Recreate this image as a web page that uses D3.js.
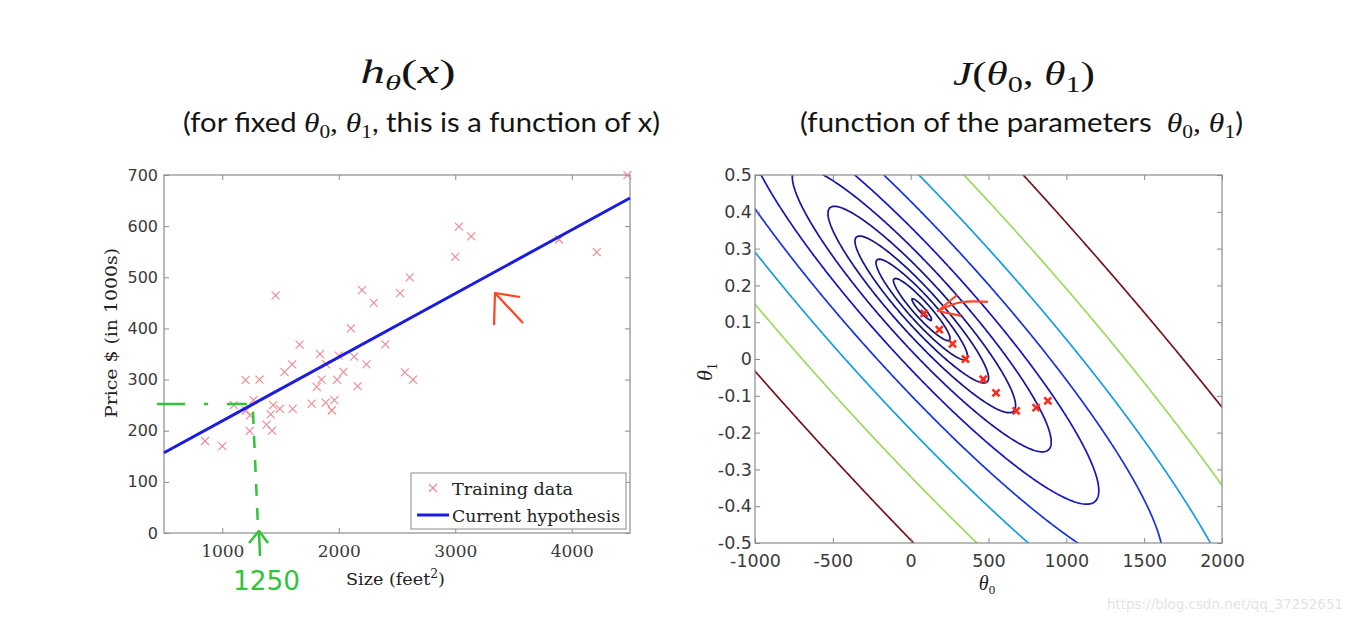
<!DOCTYPE html>
<html><head><meta charset="utf-8">
<script src="https://cdn.jsdelivr.net/npm/d3@7"></script>
<style>
body{margin:0;background:#fff;}
svg{display:block;}
text{white-space:pre;}
</style></head><body>
<svg id="chart" width="1357" height="633"></svg>
<script>
// ---------- data ----------
const sizes = [2104,1600,2400,1416,3000,1985,1534,1427,1380,1494,1940,2000,1890,4478,1268,2300,1320,1236,2609,3031,1767,1888,1604,1962,3890,1100,1458,2526,2200,2637,1839,1000,2040,3137,1811,1437,1239,2132,4215,2162,1664,2238,2567,1200,852,1852,1203];
const prices = [399.9,329.9,369,232,539.9,299.9,314.9,199.999,212,242.5,239.999,347,329.999,699.9,259.9,449.9,299.9,199.9,499.998,599,252.9,255,242.9,259.9,573.9,249.9,464.5,469,475,299.9,349.9,169.9,314.9,579.9,285.9,249.9,229.9,345,549,287,368.5,329.9,314,299,179.9,299.9,239.5];
const hypX = [500, 4500];
const hypY = [157, 655];
const xTicksL = [1000, 2000, 3000, 4000];
const yTicksL = [0, 100, 200, 300, 400, 500, 600, 700];
const xTicksR = [-1000, -500, 0, 500, 1000, 1500, 2000];
const yTicksR = [-0.5, -0.4, -0.3, -0.2, -0.1, 0, 0.1, 0.2, 0.3, 0.4, 0.5];
const contourLevels = [2336, 4281, 7848, 14384, 26367, 48329, 88587, 162378, 297635, 545559, 1000000];
const gdTheta0 = [881, 806, 678, 548, 466, 352, 269, 184, 87];
const gdTheta1 = [-0.114, -0.132, -0.141, -0.092, -0.055, 0.000, 0.041, 0.080, 0.124];
const legendLabels = ["Training data", "Current hypothesis"];

// ---------- setup ----------
const svg = d3.select("#chart");
const SERIF = "'Liberation Serif', 'DejaVu Serif', serif";
const DSERIF = "'DejaVu Serif', serif";
const SANS = "'DejaVu Sans', sans-serif";
const TSANS = "Lato, 'Open Sans', sans-serif";
const AXIS = "#8c8c8c";
const LABEL = "#3a3a3a";

function rich(parent, x, y, parts, anchor, len, fill) {
  const t = parent.append("text").attr("x", x).attr("y", y)
    .attr("text-anchor", anchor || "start").attr("fill", fill || "#141414");
  if (len) t.attr("textLength", len).attr("lengthAdjust", "spacingAndGlyphs");
  let cur = 0;
  parts.forEach(p => {
    const s = t.append("tspan").text(p.t).attr("font-family", p.ff).attr("font-size", p.fs);
    if (p.it) s.attr("font-style", "italic");
    const target = p.sub ? p.sub : (p.sup ? -p.sup : 0);
    if (target !== cur) { s.attr("dy", target - cur); cur = target; }
  });
  return t;
}

// ---------- titles ----------
rich(svg, 408, 83, [
  {t:"h", ff:SERIF, fs:33, it:true},
  {t:"θ", ff:SERIF, fs:22, it:true, sub:7},
  {t:"(", ff:SERIF, fs:33},
  {t:"x", ff:SERIF, fs:33, it:true},
  {t:")", ff:SERIF, fs:33}
], "middle", 95);

rich(svg, 1024, 85, [
  {t:"J", ff:SERIF, fs:33, it:true},
  {t:"(", ff:SERIF, fs:33},
  {t:"θ", ff:SERIF, fs:33, it:true},
  {t:"0", ff:SERIF, fs:23, sub:7},
  {t:", ", ff:SERIF, fs:33},
  {t:"θ", ff:SERIF, fs:33, it:true},
  {t:"1", ff:SERIF, fs:23, sub:7},
  {t:")", ff:SERIF, fs:33}
], "middle", 142);

rich(svg, 183, 132, [
  {t:"(for fixed ", ff:TSANS, fs:26},
  {t:"θ", ff:SERIF, fs:28, it:true},
  {t:"0", ff:SERIF, fs:19, sub:6},
  {t:", ", ff:SERIF, fs:28},
  {t:"θ", ff:SERIF, fs:28, it:true},
  {t:"1", ff:SERIF, fs:19, sub:6},
  {t:", this is a function of x)", ff:TSANS, fs:26}
], "start", 477);

rich(svg, 800, 132, [
  {t:"(function of the parameters  ", ff:TSANS, fs:26},
  {t:"θ", ff:SERIF, fs:28, it:true},
  {t:"0", ff:SERIF, fs:19, sub:6},
  {t:", ", ff:SERIF, fs:28},
  {t:"θ", ff:SERIF, fs:28, it:true},
  {t:"1", ff:SERIF, fs:19, sub:6},
  {t:")", ff:TSANS, fs:26}
], "start", 443);

// ---------- helpers for axes ----------
function styleAxis(g, family, size) {
  g.select(".domain").remove();
  g.selectAll(".tick line").attr("stroke", AXIS).attr("stroke-width", 1);
  g.selectAll(".tick text").attr("font-family", family).attr("font-size", size).attr("fill", LABEL);
}
const fmtR = d => (Math.abs(d) < 1e-9 ? "0" : (Number.isInteger(d) ? String(d) : d.toFixed(1)));

// ---------- left chart ----------
const xL = d3.scaleLinear().domain([500, 4500]).range([164, 630]);
const yL = d3.scaleLinear().domain([0, 700]).range([533, 175]);
const gL = svg.append("g");

gL.append("g").attr("transform", `translate(0,${yL(0)})`)
  .call(d3.axisBottom(xL).tickValues(xTicksL).tickSize(-5).tickSizeOuter(0).tickPadding(12).tickFormat(d3.format("d")))
  .call(g => styleAxis(g, DSERIF, 17));
gL.append("g").attr("transform", `translate(0,${yL(700)})`)
  .call(d3.axisTop(xL).tickValues(xTicksL).tickSize(-5).tickSizeOuter(0).tickFormat(""))
  .call(g => styleAxis(g, DSERIF, 17));
gL.append("g").attr("transform", `translate(${xL(500)},0)`)
  .call(d3.axisLeft(yL).tickValues(yTicksL).tickSize(-5).tickSizeOuter(0).tickPadding(6).tickFormat(d3.format("d")))
  .call(g => styleAxis(g, SANS, 16));
gL.append("g").attr("transform", `translate(${xL(4500)},0)`)
  .call(d3.axisRight(yL).tickValues(yTicksL).tickSize(-5).tickSizeOuter(0).tickFormat(""))
  .call(g => styleAxis(g, SANS, 16));
gL.append("rect").attr("x", xL(500)).attr("y", yL(700))
  .attr("width", xL(4500) - xL(500)).attr("height", yL(0) - yL(700))
  .attr("fill", "none").attr("stroke", AXIS).attr("stroke-width", 1.2);

// scatter
const xMark = "M-4,-4L4,4M-4,4L4,-4";
gL.append("g").selectAll("path").data(sizes).join("path")
  .attr("d", xMark)
  .attr("transform", (d, i) => `translate(${xL(d)},${yL(prices[i])})`)
  .attr("stroke", "#f0868e").attr("stroke-width", 1.1).attr("fill", "none");

// hypothesis
gL.append("path")
  .attr("d", d3.line().x(d => xL(d[0])).y(d => yL(d[1]))(hypX.map((x, i) => [x, hypY[i]])))
  .attr("stroke", "#1c1ce0").attr("stroke-width", 3).attr("fill", "none");

// axis labels
const pl = svg.append("g").attr("transform", "translate(117,333) rotate(-90)");
rich(pl, 0, 0, [{t:"Price $ (in 1000s)", ff:DSERIF, fs:17}], "middle", 170, "#222");
rich(svg, 346, 585, [
  {t:"Size (feet", ff:DSERIF, fs:17},
  {t:"2", ff:DSERIF, fs:12, sup:7},
  {t:")", ff:DSERIF, fs:17}
], "start", 99, "#222");

// legend
const lg = svg.append("g");
lg.append("rect").attr("x", 411).attr("y", 473).attr("width", 215).attr("height", 56)
  .attr("fill", "#fff").attr("stroke", AXIS).attr("stroke-width", 1);
lg.append("path").attr("d", xMark).attr("transform", "translate(433,488)")
  .attr("stroke", "#f0868e").attr("stroke-width", 1.1);
lg.append("line").attr("x1", 417).attr("x2", 449).attr("y1", 515).attr("y2", 515)
  .attr("stroke", "#1c1ce0").attr("stroke-width", 3);
rich(lg, 452, 495, [{t:legendLabels[0], ff:DSERIF, fs:17}], "start", 121, "#222");
rich(lg, 452, 522, [{t:legendLabels[1], ff:DSERIF, fs:17}], "start", 168, "#222");

// hand-drawn annotations (left) in data coordinates
const green = "#2fc43a";
const lineL = d3.line().x(d => xL(d[0])).y(d => yL(d[1]));
gL.append("path").attr("d", lineL([[440, 252.3], [1212, 252.3]]))
  .attr("stroke", green).attr("stroke-width", 2.5).attr("fill", "none")
  .attr("stroke-dasharray", "28 19 4 19 20");
gL.append("path").attr("d", lineL([[1264, 236.6], [1307, 9.8]]))
  .attr("stroke", green).attr("stroke-width", 2.5).attr("fill", "none")
  .attr("stroke-dasharray", "12 12");
gL.append("path").attr("d", lineL([[1315, 3.9], [1324, -45]]))
  .attr("stroke", green).attr("stroke-width", 2.5).attr("fill", "none");
gL.append("path").attr("d", lineL([[1230, -19.6], [1315, 3.9], [1393, -19.6]]))
  .attr("stroke", green).attr("stroke-width", 2.5).attr("fill", "none").attr("stroke-linejoin", "round");
rich(gL, xL(1092), yL(-111.5), [{t:"1250", ff:"'DejaVu Sans'", fs:27}], "start", 67, green);

const red = "#ff4422";
gL.append("path").attr("d", lineL([[3333, 406.7], [3341, 469.3], [3582, 410.6]]))
  .attr("stroke", red).attr("stroke-width", 2.2).attr("fill", "none").attr("stroke-linejoin", "round");
gL.append("path").attr("d", lineL([[3341, 469.3], [3556, 461.5]]))
  .attr("stroke", red).attr("stroke-width", 2.2).attr("fill", "none");

// ---------- right chart ----------
const xR = d3.scaleLinear().domain([-1000, 2000]).range([755, 1222]);
const yR = d3.scaleLinear().domain([-0.5, 0.5]).range([543, 175]);
const gR = svg.append("g");

// cost surface from training data
const m = sizes.length;
let Sx = 0, Sy = 0, Sxx = 0, Sxy = 0, Syy = 0;
for (let i = 0; i < m; i++) {
  const x = sizes[i], y = prices[i];
  Sx += x; Sy += y; Sxx += x * x; Sxy += x * y; Syy += y * y;
}
const cost = (t0, t1) => (m * t0 * t0 + t1 * t1 * Sxx + Syy + 2 * t0 * t1 * Sx - 2 * t0 * Sy - 2 * t1 * Sxy) / (2 * m);
const nx = 321, ny = 221, t0s = -1100, t0step = 10, t1s = 0.55, t1step = 0.005;
const values = new Float64Array(nx * ny);
for (let j = 0; j < ny; j++) for (let i = 0; i < nx; i++)
  values[j * nx + i] = cost(t0s + i * t0step, t1s - j * t1step);
const contours = d3.contours().size([nx, ny]).thresholds(contourLevels)(values);
const proj = d3.geoTransform({ point: function (x, y) {
  this.stream.point(xR(t0s + (x - 0.5) * t0step), yR(t1s - (y - 0.5) * t1step));
}});
const gpath = d3.geoPath(proj);
function jet(t) {
  const c = v => Math.max(0, Math.min(1, v));
  return d3.rgb(255 * c(1.5 - Math.abs(4 * t - 3)), 255 * c(1.5 - Math.abs(4 * t - 2)), 255 * c(1.5 - Math.abs(4 * t - 1)));
}
const maxLevel = contourLevels[contourLevels.length - 1];
svg.append("defs").append("clipPath").attr("id", "clipR").append("rect")
  .attr("x", xR(-1000)).attr("y", yR(0.5)).attr("width", xR(2000) - xR(-1000)).attr("height", yR(-0.5) - yR(0.5));
gR.append("g").attr("clip-path", "url(#clipR)").selectAll("path").data(contours).join("path")
  .attr("d", gpath)
  .attr("fill", "none")
  .attr("stroke", d => d3.interpolateRgb(jet(d.value / maxLevel), "#5a5a80")(0.22))
  .attr("stroke-width", 1.7);

gR.append("g").attr("transform", `translate(0,${yR(-0.5)})`)
  .call(d3.axisBottom(xR).tickValues(xTicksR).tickSize(-5).tickSizeOuter(0).tickPadding(12).tickFormat(fmtR))
  .call(g => styleAxis(g, SANS, 17.5));
gR.append("g").attr("transform", `translate(0,${yR(0.5)})`)
  .call(d3.axisTop(xR).tickValues(xTicksR).tickSize(-5).tickSizeOuter(0).tickFormat(""))
  .call(g => styleAxis(g, SANS, 17.5));
gR.append("g").attr("transform", `translate(${xR(-1000)},0)`)
  .call(d3.axisLeft(yR).tickValues(yTicksR).tickSize(-5).tickSizeOuter(0).tickPadding(3).tickFormat(fmtR))
  .call(g => styleAxis(g, SANS, 17.5));
gR.append("g").attr("transform", `translate(${xR(2000)},0)`)
  .call(d3.axisRight(yR).tickValues(yTicksR).tickSize(-5).tickSizeOuter(0).tickFormat(""))
  .call(g => styleAxis(g, SANS, 17.5));
gR.append("rect").attr("x", xR(-1000)).attr("y", yR(0.5))
  .attr("width", xR(2000) - xR(-1000)).attr("height", yR(-0.5) - yR(0.5))
  .attr("fill", "none").attr("stroke", AXIS).attr("stroke-width", 1.2);

// gradient descent path markers
const xMarkB = "M-3.5,-3.5L3.5,3.5M-3.5,3.5L3.5,-3.5";
gR.append("g").selectAll("path").data(gdTheta0).join("path")
  .attr("d", xMarkB)
  .attr("transform", (d, i) => `translate(${xR(d)},${yR(gdTheta1[i])})`)
  .attr("stroke", "#ff2a1a").attr("stroke-width", 2.6).attr("fill", "none");

// hand-drawn arrow (right)
const lineR = d3.line().x(d => xR(d[0])).y(d => yR(d[1]));
gR.append("path").attr("d", lineR.curve(d3.curveBasis)([[175.4, 0.1304], [316.7, 0.160], [496.6, 0.155]]))
  .attr("stroke", red).attr("stroke-width", 2.2).attr("fill", "none");
gR.append("path").attr("d", d3.line().x(d => xR(d[0])).y(d => yR(d[1]))([[297.4, 0.174], [175.4, 0.1304], [323.1, 0.117]]))
  .attr("stroke", red).attr("stroke-width", 2.2).attr("fill", "none").attr("stroke-linejoin", "round");

// right axis labels
const t1g = svg.append("g").attr("transform", "translate(712,372) rotate(-90)");
rich(t1g, 0, 0, [{t:"θ", ff:SERIF, fs:22, it:true}, {t:"1", ff:SERIF, fs:14, sub:5}], "middle", null, "#222");
rich(svg, 987, 590, [{t:"θ", ff:SERIF, fs:20, it:true}, {t:"0", ff:SERIF, fs:13, sub:4}], "middle", null, "#222");

// watermark
rich(svg, 1107, 609, [{t:"https://blog.csdn.net/qq_37252651", ff:SANS, fs:14}], "start", 236, "#e4e4e4");
</script>
</body></html>
